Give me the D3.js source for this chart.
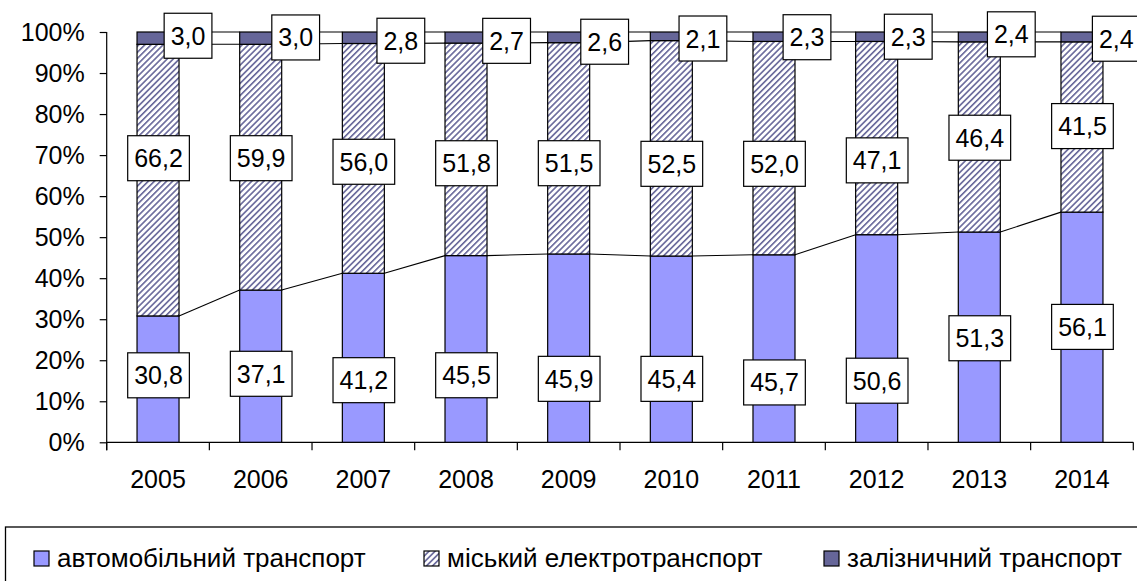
<!DOCTYPE html>
<html><head><meta charset="utf-8">
<script src="https://cdn.jsdelivr.net/npm/d3@7"></script>
<style>
html,body{margin:0;padding:0;background:#fff;}
svg{display:block;font-family:"Liberation Sans",Arial,sans-serif;}
</style></head>
<body>
<svg id="chart" width="1137" height="581"></svg>
<script>
// ---- data ----
const years = ["2005","2006","2007","2008","2009","2010","2011","2012","2013","2014"];
const autoValues = [30.8, 37.1, 41.2, 45.5, 45.9, 45.4, 45.7, 50.6, 51.3, 56.1];
const electroValues = [66.2, 59.9, 56.0, 51.8, 51.5, 52.5, 52.0, 47.1, 46.4, 41.5];
const railValues = [3.0, 3.0, 2.8, 2.7, 2.6, 2.1, 2.3, 2.3, 2.4, 2.4];
const seriesNames = ["автомобільний транспорт", "міський електротранспорт", "залізничний транспорт"];
const yTickValues = [0, 0.1, 0.2, 0.3, 0.4, 0.5, 0.6, 0.7, 0.8, 0.9, 1.0];

// ---- layout (manual label nudges in px, as placed in the original) ----
const autoLabelDy = [-3.8, 7.6, 22.4, 26.3, 30.7, 29.7, 33.9, 42.2, 1.1, -0.3];
const elecLabelDy = [-21.9, -9, 3.4, 13.9, 14.9, 15.5, 15.7, 22.3, 0.8, -0.9];
const railLabelDx = [30, 35, 37.5, 40.6, 36, 31.6, 33, 31.6, 32, 34.3];
const railLabelDy = [-2.4, -0.7, 3, 3.3, 4.4, 2.2, 0.5, 0, -2.6, 1.8];

const svg = d3.select("#chart");
const pLeft = 106.7, pRight = 1133.3, pTop = 32, pBottom = 442.3;
const FS = 25;

const x = d3.scaleBand().domain(years).range([pLeft, pRight]).padding(0);
const y = d3.scaleLinear().domain([0, 1]).range([pBottom, pTop]);
const barW = 42;
const cx = d => x(d) + x.bandwidth() / 2;

// pattern
const defs = svg.append("defs");
const pat = defs.append("pattern").attr("id", "hatch").attr("patternUnits", "userSpaceOnUse")
  .attr("width", 4.3).attr("height", 10).attr("patternTransform", "rotate(45)");
pat.append("rect").attr("width", 4.3).attr("height", 10).attr("fill", "#ffffff");
pat.append("rect").attr("width", 1.6).attr("height", 10).attr("fill", "#666699");

// stacked data
const rows = years.map((yr, i) => {
  const tot = autoValues[i] + electroValues[i] + railValues[i];
  const a = autoValues[i] / tot, e = electroValues[i] / tot, r = railValues[i] / tot;
  return {yr, i, segs: [
    {y0: 0, y1: a, fill: "#9999FF", v: autoValues[i]},
    {y0: a, y1: a + e, fill: "url(#hatch)", v: electroValues[i]},
    {y0: a + e, y1: a + e + r, fill: "#666699", v: railValues[i]}
  ]};
});

// axes
const gy = svg.append("g").attr("transform", `translate(${pLeft},0)`)
  .call(d3.axisLeft(y).tickValues(yTickValues).tickSize(7).tickPadding(15).tickFormat(d3.format(".0%")));
gy.select(".domain").attr("stroke", "#000").attr("stroke-width", 1.2).attr("d", `M0,${pBottom + 8}V${pTop}`);
gy.selectAll(".tick line").attr("stroke", "#000").attr("stroke-width", 1.2);
gy.selectAll(".tick text").attr("font-size", FS).attr("font-family", "Liberation Sans, Arial, sans-serif").attr("fill", "#000");

const gx = svg.append("g").attr("transform", `translate(0,${pBottom})`)
  .call(d3.axisBottom(x).tickSize(0).tickPadding(28));
gx.select(".domain").attr("stroke", "#000").attr("stroke-width", 1.2).attr("d", `M${pLeft},0H${pRight}`);
gx.selectAll(".tick text").attr("font-size", FS).attr("font-family", "Liberation Sans, Arial, sans-serif").attr("fill", "#000");
// category separator ticks
const sepTicks = years.map(d => x(d)).concat([pRight]);
svg.append("g").selectAll("line").data(sepTicks).join("line")
  .attr("x1", d => d).attr("x2", d => d).attr("y1", pBottom).attr("y2", pBottom + 8)
  .attr("stroke", "#000").attr("stroke-width", 1.2);

// bars
const gb = svg.append("g");
rows.forEach(r => {
  gb.selectAll(null).data(r.segs).join("rect")
    .attr("x", cx(r.yr) - barW / 2).attr("width", barW)
    .attr("y", s => y(s.y1)).attr("height", s => y(s.y0) - y(s.y1))
    .attr("fill", s => s.fill).attr("stroke", "#000").attr("stroke-width", 1.2);
});

// series lines
const gl = svg.append("g");
for (let k = 0; k < 3; k++) {
  for (let i = 0; i < rows.length - 1; i++) {
    const a = rows[i], b = rows[i + 1];
    gl.append("line")
      .attr("x1", cx(a.yr) + barW / 2).attr("y1", y(a.segs[k].y1))
      .attr("x2", cx(b.yr) - barW / 2).attr("y2", y(b.segs[k].y1))
      .attr("stroke", "#000").attr("stroke-width", 1.1);
  }
}

// labels
const fmt = v => d3.format(".1f")(v).replace(".", ",");
function label(px, py, txt) {
  const g = svg.append("g");
  const t = g.append("text").attr("x", px).attr("y", py + FS * 0.36)
    .attr("text-anchor", "middle").attr("font-size", FS).attr("fill", "#000").text(txt);
  const w = t.node().getComputedTextLength() + 13;
  g.insert("rect", "text").attr("x", px - w / 2).attr("y", py - 22.5).attr("width", w).attr("height", 45)
    .attr("fill", "#fff").attr("stroke", "#000").attr("stroke-width", 1.2);
}
rows.forEach(r => {
  const i = r.i, c = cx(r.yr);
  const s0 = r.segs[0], s1 = r.segs[1], s2 = r.segs[2];
  label(c + 0.5, y((s0.y0 + s0.y1) / 2) + autoLabelDy[i], fmt(s0.v));
  label(c + 0.5, y((s1.y0 + s1.y1) / 2) + elecLabelDy[i], fmt(s1.v));
  label(c + railLabelDx[i], y((s2.y0 + s2.y1) / 2) + railLabelDy[i], fmt(s2.v));
});

// legend
const LFS = 26;
const lg = svg.append("g");
lg.append("rect").attr("x", 5.5).attr("y", 527).attr("width", 1200).attr("height", 100)
  .attr("fill", "#fff").attr("stroke", "#000").attr("stroke-width", 1.3);
const legendFills = ["#9999FF", "url(#hatch)", "#666699"];
const legendX = [34, 424, 824];
seriesNames.forEach((n, i) => {
  lg.append("rect").attr("x", legendX[i]).attr("y", 551).attr("width", 15).attr("height", 15)
    .attr("fill", legendFills[i]).attr("stroke", "#000").attr("stroke-width", 1.2);
  lg.append("text").attr("x", legendX[i] + 23).attr("y", 566.5).attr("font-size", LFS).attr("fill", "#000").text(n);
});
</script>
</body></html>
